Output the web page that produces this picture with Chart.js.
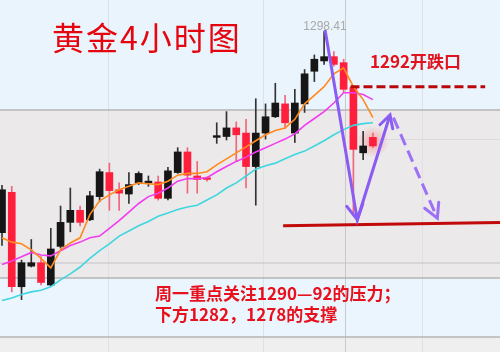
<!DOCTYPE html>
<html>
<head>
<meta charset="utf-8">
<script src="https://cdn.jsdelivr.net/npm/chart.js@4.4.0/dist/chart.umd.min.js"></script>
<style>
  html, body { margin: 0; padding: 0; background: #eaf4fc; }
  #wrap { width: 500px; height: 352px; }
</style>
</head>
<body>
<div id="wrap"><canvas id="gold-chart" width="500" height="352"></canvas></div>
<script>
// gold, 4h candles (oldest first)
const opens  = [1275.0, 1279.7, 1268.7, 1271.1, 1271.5, 1268.9, 1273.4, 1276.2, 1277.6, 1276.5,
                1279.2, 1282.0, 1280.0, 1279.5, 1280.8, 1280.8, 1280.9, 1279.0, 1282.0, 1284.4,
                1281.6, 1281.4, 1286.1, 1286.2, 1287.2, 1286.6, 1282.7, 1286.6, 1288.5, 1290.0,
                1286.6, 1290.0, 1293.8, 1295.0, 1295.5, 1294.8, 1291.9, 1284.3, 1286.1];
const highs  = [1280.5, 1280.4, 1271.8, 1274.2, 1272.2, 1275.5, 1278.1, 1280.2, 1278.1, 1279.8,
                1282.4, 1283.1, 1280.8, 1282.0, 1282.1, 1281.6, 1281.6, 1282.6, 1284.9, 1284.9,
                1283.3, 1281.5, 1287.8, 1289.1, 1287.9, 1288.2, 1290.6, 1290.0, 1292.4, 1291.0,
                1291.7, 1294.0, 1295.7, 1298.41, 1296.1, 1295.2, 1292.1, 1286.8, 1286.6];
const lows   = [1273.5, 1268.1, 1267.2, 1271.0, 1268.9, 1268.8, 1273.2, 1275.1, 1275.8, 1276.4,
                1278.6, 1277.6, 1277.6, 1278.4, 1280.6, 1280.4, 1278.8, 1278.8, 1281.9, 1279.6,
                1279.6, 1281.0, 1285.4, 1285.8, 1283.3, 1280.2, 1278.2, 1285.9, 1288.4, 1287.1,
                1285.5, 1289.0, 1292.6, 1294.6, 1294.4, 1291.3, 1277.1, 1283.5, 1284.9];
const closes = [1280.0, 1268.7, 1271.5, 1271.5, 1269.2, 1273.1, 1276.2, 1277.6, 1276.2, 1279.3,
                1282.1, 1279.9, 1279.6, 1280.6, 1281.9, 1281.0, 1279.0, 1282.2, 1284.4, 1281.7,
                1281.2, 1281.2, 1286.3, 1287.2, 1286.4, 1282.7, 1286.6, 1288.5, 1290.1, 1287.8,
                1290.1, 1293.5, 1295.2, 1295.5, 1294.6, 1291.7, 1284.7, 1285.1, 1285.1];

// moving averages
const maFast = [1274.4, 1273.9, 1273.7, 1273.0, 1272.0, 1270.9, 1273.0, 1273.8, 1274.4, 1277.1,
                1278.7, 1279.4, 1280.0, 1280.4, 1280.8, 1280.7, 1280.6, 1281.0, 1281.7, 1281.9,
                1281.9, 1282.1, 1282.9, 1283.6, 1284.3, 1285.0, 1285.7, 1286.4, 1286.9, 1287.2,
                1288.2, 1290.0, 1291.0, 1292.0, 1293.5, 1294.2, 1292.0, 1290.5, 1288.4];
const maMid  = [1271.3, 1271.7, 1272.2, 1272.7, 1272.4, 1272.3, 1272.9, 1273.5, 1273.9, 1274.4,
                1274.6, 1275.5, 1276.4, 1277.4, 1278.4, 1279.2, 1279.6, 1280.2, 1281.0, 1281.3,
                1281.3, 1281.4, 1282.1, 1282.7, 1283.3, 1283.8, 1284.4, 1284.9, 1285.4, 1285.9,
                1286.5, 1287.5, 1288.3, 1289.1, 1290.1, 1291.3, 1291.3, 1291.1, 1290.5];
const maSlow = [1267.1, 1267.4, 1267.8, 1268.1, 1268.3, 1268.7, 1269.5, 1270.2, 1271.0, 1272.0,
                1272.9, 1273.7, 1274.6, 1275.2, 1275.8, 1276.3, 1276.9, 1277.3, 1277.7, 1278.0,
                1278.2, 1278.8, 1279.4, 1280.2, 1280.8, 1281.6, 1282.4, 1282.8, 1283.1, 1283.6,
                1284.1, 1284.5, 1285.1, 1285.7, 1286.4, 1287.0, 1287.5, 1287.7, 1287.8];

// hand-drawn annotations, in (bar index, price)
const resistLine = [{ x: 35.7, y: 1292.0 }, { x: 49.5, y: 1292.0 }];
const supportLine = [{ x: 28.8, y: 1275.8 }, { x: 51.2, y: 1276.2 }];
const pathDone = [{ x: 33.1, y: 1298.6 }, { x: 36.4, y: 1276.5 }, { x: 39.75, y: 1288.7 }];
const pathNext = [{ x: 40.1, y: 1288.4 }, { x: 44.6, y: 1276.7 }];

const highLabel = '1298.41';
const title = '黄金4小时图';
const gapNote = '1292开跌口';
const noteLines = ['周一重点关注1290—92的压力；', '下方1282，1278的支撑'];

const UP = '#161616', DOWN = '#ff1e3c', DOWN_WICK = '#f2667a';
const isUp = opens.map((o, i) => closes[i] >= o);

const bodies = opens.map((o, i) => ({ x: i, y: [o, closes[i]] }));
const wicks = highs.map((h, i) => ({ x: i, y: [lows[i], h] }));
const toXY = arr => arr.map((v, i) => ({ x: i, y: v }));

const backdrop = {
    id: 'backdrop',
    beforeDraw(chart) {
        const { ctx, width, height } = chart;
        ctx.save();
        ctx.fillStyle = '#eaf4fc'; ctx.fillRect(0, 0, width, 110);
        ctx.fillStyle = '#ebe9ea'; ctx.fillRect(0, 110, width, 168);
        ctx.fillStyle = '#eaf5fd'; ctx.fillRect(0, 278, width, 59);
        ctx.fillStyle = '#efefef'; ctx.fillRect(0, 337, width, height - 337);
        // faint verticals
        ctx.strokeStyle = '#dfe0e3'; ctx.lineWidth = 1;
        [108.5, 263.5, 422.5].forEach(x => { ctx.beginPath(); ctx.moveTo(x, 0); ctx.lineTo(x, height); ctx.stroke(); });
        ctx.strokeStyle = '#c9c9cc';
        ctx.beginPath(); ctx.moveTo(345.5, 0); ctx.lineTo(345.5, height); ctx.stroke();
        // horizontal separators
        ctx.strokeStyle = '#dcdcdf';
        ctx.beginPath(); ctx.moveTo(377, 139.5); ctx.lineTo(width, 139.5); ctx.stroke();
        ctx.strokeStyle = '#c4c4c6';
        ctx.beginPath(); ctx.moveTo(0, 263); ctx.lineTo(width, 263); ctx.stroke();
        ctx.strokeStyle = '#b4b4b6'; ctx.lineWidth = 1.5;
        [110, 278, 337].forEach(y => { ctx.beginPath(); ctx.moveTo(0, y); ctx.lineTo(width, y); ctx.stroke(); });
        // glow on last candle
        const xs = chart.scales.x, ys = chart.scales.y;
        const last = opens.length - 1;
        const gx = xs.getPixelForValue(last), gy = ys.getPixelForValue((opens[last] + closes[last]) / 2);
        const g = ctx.createRadialGradient(gx, gy, 0, gx, gy, 16);
        g.addColorStop(0, 'rgba(255,90,90,0.45)');
        g.addColorStop(1, 'rgba(255,90,90,0)');
        ctx.fillStyle = g; ctx.fillRect(gx - 16, gy - 16, 32, 32);
        ctx.restore();
    }
};

function chevron(ctx, from, tip, len, color) {
    const ang = Math.atan2(tip.y - from.y, tip.x - from.x);
    ctx.strokeStyle = color; ctx.lineWidth = 3; ctx.lineCap = 'round'; ctx.setLineDash([]);
    ctx.beginPath();
    ctx.moveTo(tip.x - len * Math.cos(ang - 0.5), tip.y - len * Math.sin(ang - 0.5));
    ctx.lineTo(tip.x, tip.y);
    ctx.lineTo(tip.x - len * Math.cos(ang + 0.5), tip.y - len * Math.sin(ang + 0.5));
    ctx.stroke();
}

const overlay = {
    id: 'overlay',
    afterDraw(chart) {
        const { ctx } = chart;
        const xs = chart.scales.x, ys = chart.scales.y;
        const px = p => ({ x: xs.getPixelForValue(p.x), y: ys.getPixelForValue(p.y) });
        ctx.save();
        chevron(ctx, px(pathDone[0]), px(pathDone[1]), 17, '#8a5cf2');
        chevron(ctx, px(pathDone[1]), px(pathDone[2]), 14, '#8a5cf2');
        chevron(ctx, px(pathNext[0]), px(pathNext[1]), 16, '#9d70f7');

        ctx.textBaseline = 'middle';
        ctx.fillStyle = '#e4050f';
        ctx.font = '32px "Noto Sans CJK SC"';
        ctx.letterSpacing = '2px';
        ctx.fillText(title, 52, 38);
        ctx.letterSpacing = '0px';

        ctx.fillStyle = '#a8a8a8';
        ctx.font = '12px "Liberation Sans"';
        ctx.textAlign = 'center';
        ctx.fillText(highLabel, 325, 27);
        ctx.textAlign = 'left';

        ctx.fillStyle = '#e0141e';
        ctx.font = 'bold 17px "Noto Sans CJK SC"';
        ctx.fillText(gapNote, 370, 62);

        ctx.fillStyle = '#e8101c';
        ctx.font = 'bold 17px "Noto Sans CJK SC"';
        ctx.fillText(noteLines[0], 155, 294);
        ctx.fillText(noteLines[1], 155, 315);
        ctx.restore();
    }
};

new Chart(document.getElementById('gold-chart').getContext('2d'), {
    type: 'bar',
    data: {
        datasets: [
            {
                type: 'bar', label: 'wick', data: wicks, order: 10, grouped: false,
                barThickness: 1, backgroundColor: isUp.map(u => u ? '#333333' : DOWN_WICK)
            },
            {
                type: 'bar', label: 'body', data: bodies, order: 9, grouped: false,
                barThickness: 7, backgroundColor: isUp.map(u => u ? UP : DOWN)
            },
            { type: 'line', label: 'MA slow', data: toXY(maSlow), borderColor: '#3fd6df', borderWidth: 1.6, pointRadius: 0, order: 6 },
            { type: 'line', label: 'MA mid', data: toXY(maMid), borderColor: '#f23cf0', borderWidth: 1.6, pointRadius: 0, order: 5 },
            { type: 'line', label: 'MA fast', data: toXY(maFast), borderColor: '#ff8a1e', borderWidth: 1.6, pointRadius: 0, order: 4 },
            { type: 'line', label: 'support', data: supportLine, borderColor: '#c20a0a', borderWidth: 3, pointRadius: 0, order: 3 },
            { type: 'line', label: 'resist', data: resistLine, borderColor: '#b80808', borderWidth: 3, borderDash: [9, 4], pointRadius: 0, order: 2 },
            { type: 'line', label: 'next', data: pathNext, borderColor: '#9d70f7', borderWidth: 3, borderDash: [12, 6], pointRadius: 0, order: 1 },
            { type: 'line', label: 'done', data: pathDone, borderColor: '#8a5cf2', borderWidth: 3, pointRadius: 0, order: 0 }
        ]
    },
    options: {
        responsive: false,
        animation: false,
        layout: { padding: 0 },
        plugins: { legend: { display: false }, tooltip: { enabled: false } },
        scales: {
            x: { type: 'linear', min: -0.205, max: 51.02, offset: false, display: false },
            y: { min: 1261.1, max: 1302.1, display: false }
        }
    },
    plugins: [backdrop, overlay]
});
</script>
</body>
</html>
